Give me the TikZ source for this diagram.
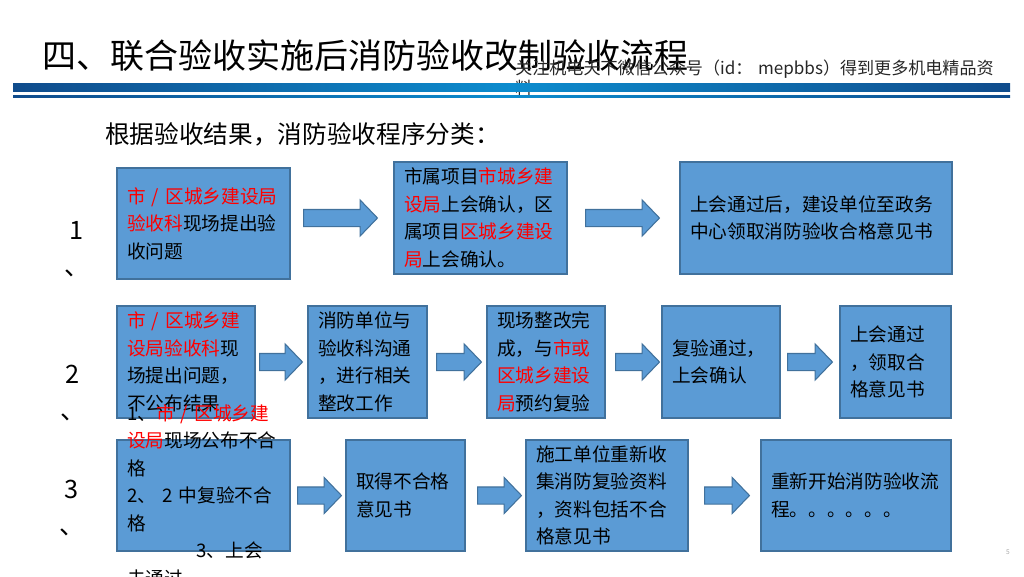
\documentclass[tikz,border=0pt]{standalone}
\usepackage{fontspec}
\setmainfont{Noto Sans CJK SC}
\usetikzlibrary{calc}

\definecolor{boxblue}{RGB}{91,155,213}
\definecolor{boxline}{RGB}{65,113,156}
\definecolor{bardark}{RGB}{16,76,140}
\definecolor{barlight}{RGB}{12,140,206}

\newcommand\rd[1]{\textcolor{red}{#1}}

% block arrow between two boxes, gaps in px
\newcommand\blockarrow[4]{%
	\draw[arrowfill] let \p1=($(#1.east)+(#3,0)$), \p2=($(#2.west)-(#4,0)$) in
		(\x1,\y2+6.4pt) -- (\x2-13pt,\y2+6.4pt) -- (\x2-13pt,\y2+13.5pt)
		-- (\x2,\y2)
		-- (\x2-13pt,\y2-13.5pt) -- (\x2-13pt,\y2-6.4pt) -- (\x1,\y2-6.4pt) -- cycle;
}

\tikzset{
	box/.style={draw=boxline,fill=boxblue,line width=0.8pt,inner xsep=7.5pt,
		inner ysep=0pt,align=left,text=black,
		font=\fontsize{14}{20.6}\selectfont},
	boxtext/.style={inner xsep=7.5pt,inner ysep=0pt,align=left,text=black,
		font=\fontsize{14}{20.6}\selectfont},
	arrowfill/.style={draw=boxline,fill=boxblue,line width=0.8pt},
	rowlabel/.style={align=center,inner sep=0pt,font=\fontsize{19}{27}\selectfont},
}

\begin{document}
\begin{tikzpicture}[x=0.75pt,y=-0.75pt]

\useasboundingbox (0,0) rectangle (1024,576);

% heading
\node[anchor=west,inner sep=0pt,font=\fontsize{25.5}{30}\selectfont] (title)
	at (42,56) {四、联合验收实施后消防验收改制验收流程};
\node[anchor=north west,inner sep=0pt,text width=370pt,align=left,
	font=\fontsize{12.8}{15}\selectfont,text=black!85] (wechat)
	at (515,60) {关注机电天下微信公众号（id： mepbbs）得到更多机电精品资\\料};

\shade[left color=bardark,right color=bardark,middle color=barlight]
	(13,83) rectangle (1010,91);
\shade[left color=bardark,right color=bardark,middle color=barlight]
	(13,95.5) rectangle (1010,97.5);

\node[anchor=west,inner sep=0pt,font=\fontsize{18.5}{22}\selectfont] (sub)
	at (105,134) {根据验收结果，消防验收程序分类：};

% row labels
\node[rowlabel] (n1) at (77,249) {1\\、};
\node[rowlabel] (n2) at (73,393) {2\\、};
\node[rowlabel] (n3) at (72,508) {3\\、};

% row 1
\node[box,minimum width=129.75pt,minimum height=83.25pt,text width=114.75pt]
	(r1a) at (203.5,223.5)
	{\rd{市 / 区城乡建设局}\\\rd{验收科}现场提出验\\收问题};
\node[box,minimum width=129.75pt,minimum height=84pt,text width=114.75pt]
	(r1b) at (480.5,218)
	{市属项目\rd{市城乡建}\\\rd{设局}上会确认，区\\属项目\rd{区城乡建设}\\\rd{局}上会确认。};
\node[box,minimum width=204pt,minimum height=84pt,text width=189pt]
	(r1c) at (816,218)
	{上会通过后，建设单位至政务\\中心领取消防验收合格意见书};

\blockarrow{r1a}{r1b}{13}{16}
\blockarrow{r1b}{r1c}{18}{20}

% row 2
\node[box,minimum width=103.5pt,minimum height=84pt,text width=88.5pt]
	(r2a) at (186,362)
	{\rd{市 / 区城乡建}\\\rd{设局验收科}现\\场提出问题，\\不公布结果};
\node[box,minimum width=89.25pt,minimum height=84pt,text width=74.25pt]
	(r2b) at (367.5,362)
	{消防单位与\\验收科沟通\\，进行相关\\整改工作};
\node[box,minimum width=88.5pt,minimum height=84pt,text width=73.5pt]
	(r2c) at (546,362)
	{现场整改完\\成，与\rd{市或}\\\rd{区城乡建设}\\\rd{局}预约复验};
\node[box,minimum width=88.5pt,minimum height=84pt,text width=73.5pt]
	(r2d) at (721,362)
	{复验通过，\\上会确认};
\node[box,minimum width=83.25pt,minimum height=84pt,text width=68.25pt]
	(r2e) at (895.5,362)
	{上会通过\\，领取合\\格意见书};

\blockarrow{r2a}{r2b}{4}{5}
\blockarrow{r2b}{r2c}{9}{5}
\blockarrow{r2c}{r2d}{10}{2}
\blockarrow{r2d}{r2e}{7}{7}

% row 3
\node[box,minimum width=129.75pt,minimum height=83.25pt,text width=114.75pt]
	(r3a) at (203.5,495.5) {};
\node[boxtext,text width=114.75pt] (r3t) at (r3a.center)
	{1、\rd{市 / 区城乡建}\\\rd{设局}现场公布不合\\格\\2、 2 中复验不合\\格\\
	\hspace*{52pt}3、上会\\未通过};
\node[box,minimum width=89.25pt,minimum height=83.25pt,text width=74.25pt]
	(r3b) at (405.5,495.5)
	{取得不合格\\意见书};
\node[box,minimum width=121.5pt,minimum height=83.25pt,text width=106.5pt]
	(r3c) at (607,495.5)
	{施工单位重新收\\集消防复验资料\\，资料包括不合\\格意见书};
\node[box,minimum width=142.5pt,minimum height=83.25pt,text width=127.5pt]
	(r3d) at (856,495.5)
	{重新开始消防验收流\\程。。。。。。};

\blockarrow{r3a}{r3b}{7}{4}
\blockarrow{r3b}{r3c}{12}{4}
\blockarrow{r3c}{r3d}{16}{11}

\node[inner sep=0pt,font=\fontsize{5}{6}\selectfont,text=black!35] (page)
	at (1008,552) {5};

\end{tikzpicture}
\end{document}
